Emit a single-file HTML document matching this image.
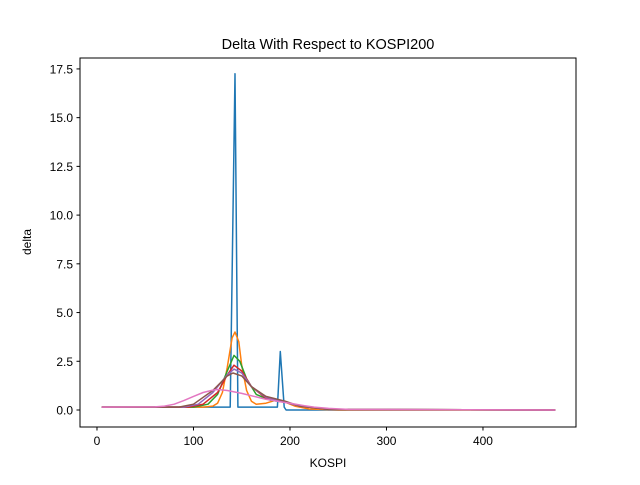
<!DOCTYPE html>
<html><head><meta charset="utf-8"><style>
body{margin:0;background:#fff;font-family:"Liberation Sans","DejaVu Sans",sans-serif}
</style></head><body>
<svg width="640" height="480" id="svg" xmlns="http://www.w3.org/2000/svg">
<rect width="640" height="480" fill="#fff"/>
<text x="328" y="49" font-size="14.5" text-anchor="middle">Delta With Respect to KOSPI200</text>
<g id="plot"></g>
<rect x="80" y="58" width="496" height="369" fill="none" stroke="#000" stroke-width="1"/>
<text x="328" y="467" font-size="12" text-anchor="middle">KOSPI</text>
<text x="31" y="242" font-size="12" text-anchor="middle" transform="rotate(-90 31 242)">delta</text>
</svg>
<script>
const xTicks=[0,100,200,300,400];
const yTicks=[0,2.5,5,7.5,10,12.5,15,17.5];
const yTickLabels=["0.0","2.5","5.0","7.5","10.0","12.5","15.0","17.5"];
const colors=["#1f77b4","#ff7f0e","#2ca02c","#d62728","#9467bd","#8c564b","#e377c2"];
const s1x=[5,135,138,143,146,150,185,187,190,194,196,475];
const s1y=[0.15,0.15,0.15,17.25,0.15,0.15,0.15,0.15,3.0,0.15,0,0];
const s2x=[5,110,120,125,130,135,140,143,147,150,155,160,165,175,185,195,205,220,250,475];
const s2y=[0.15,0.15,0.2,0.35,0.9,2.2,3.7,4.0,3.5,2.3,1.0,0.45,0.3,0.35,0.5,0.4,0.2,0.05,0,0];
const s3x=[5,100,115,125,135,142,148,155,165,180,195,210,240,475];
const s3y=[0.15,0.15,0.3,0.8,2.0,2.8,2.5,1.6,0.8,0.5,0.4,0.2,0.03,0];
const s4x=[5,95,110,125,135,142,150,160,175,195,210,240,475];
const s4y=[0.15,0.15,0.3,0.9,1.8,2.3,2.0,1.2,0.6,0.4,0.2,0.03,0];
const s5x=[5,90,105,120,135,142,150,160,175,195,210,240,475];
const s5y=[0.15,0.15,0.3,0.9,1.8,2.1,1.9,1.2,0.65,0.4,0.2,0.03,0];
const s6x=[5,85,100,120,135,141,150,160,175,195,210,240,475];
const s6y=[0.15,0.15,0.3,1.0,1.75,1.9,1.75,1.2,0.7,0.45,0.2,0.03,0];
const s7x=[5,60,70,80,90,100,110,120,125,135,150,165,175,190,200,215,225,240,260,475];
const s7y=[0.15,0.16,0.2,0.3,0.48,0.7,0.9,1.02,1.05,1.0,0.85,0.67,0.55,0.42,0.35,0.22,0.15,0.08,0.03,0];
const series=[[s1x,s1y],[s2x,s2y],[s3x,s3y],[s4x,s4y],[s5x,s5y],[s6x,s6y],[s7x,s7y]];
const X=v=>80+(v+17.6)/514*496;
const Y=v=>410-v*19.49;
const NS="http://www.w3.org/2000/svg";
const g=document.getElementById('plot');
function mk(t,a){const e=document.createElementNS(NS,t);for(const k in a)e.setAttribute(k,a[k]);g.appendChild(e);return e;}
xTicks.forEach(t=>{
 const l=mk('line',{x1:X(t),x2:X(t),y1:427,y2:430.5,stroke:'#000'});
 
 
 const tx=mk('text',{x:X(t),y:445,'font-size':12,'text-anchor':'middle'});tx.textContent=t;
 
 
});
yTicks.forEach((t,i)=>{
 const l=mk('line',{x1:76.5,x2:80,y1:Y(t),y2:Y(t),stroke:'#000'});
 
 
 const tx=mk('text',{x:73,y:Y(t)+4.5,'font-size':12,'text-anchor':'end'});tx.textContent=yTickLabels[i];
 
 
});
series.forEach((s,i)=>{
 const pts=s[0].map((x,j)=>X(x).toFixed(1)+','+Y(s[1][j]).toFixed(1)).join(' ');
 const p=mk('polyline',{points:pts,fill:'none',stroke:colors[i],'stroke-width':1.5,'stroke-linejoin':'round'});
 
 
});
</script>
</body></html>
